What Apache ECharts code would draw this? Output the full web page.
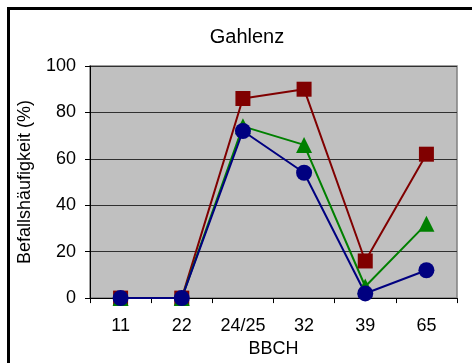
<!DOCTYPE html>
<html>
<head>
<meta charset="utf-8">
<script src="https://cdn.jsdelivr.net/npm/echarts@6/dist/echarts.min.js"></script>
<style>
  html, body { margin: 0; padding: 0; background: #fff; overflow: hidden; }
  #frame { position: absolute; left: 7px; top: 7px; width: 500px; height: 400px; border: 3px solid #000; }
  #main { position: absolute; left: 0; top: 0; width: 472px; height: 363px; }
</style>
</head>
<body>
<div id="frame"></div>
<div id="main"></div>
<script>
// BBCH stages
const categories = ["11", "22", "24/25", "32", "39", "65"];
// Befallshäufigkeit (%) per series
const redValues = [0, 0, 86, 90, 16, 62];
const greenValues = [0, 0, 74, 66, 5, 32];
const blueValues = [0, 0, 72, 54, 2, 12];

const font = "Liberation Sans, Arial, sans-serif";

function line(data, color, symbol, size) {
    return {
        type: "line",
        data: data,
        symbol: symbol,
        symbolSize: size,
        lineStyle: { color: color, width: 2 },
        itemStyle: { color: color },
        animation: false
    };
}

const myChart = echarts.init(document.getElementById("main"));
myChart.setOption({
    title: {
        text: "Gahlenz",
        left: 242,
        textAlign: "center",
        top: 22,
        textStyle: { fontFamily: font, fontSize: 20, fontWeight: "normal", color: "#000" }
    },
    grid: {
        left: 90, top: 66, width: 367, height: 235,
        show: true, backgroundColor: "#c0c0c0", borderColor: "#808080", borderWidth: 1.5
    },
    xAxis: {
        type: "category",
        data: categories,
        boundaryGap: true,
        name: "BBCH",
        nameLocation: "middle",
        nameGap: 38,
        nameTextStyle: { fontFamily: font, fontSize: 18, color: "#000" },
        axisLine: { lineStyle: { color: "#000", width: 1 } },
        axisTick: { show: true, length: 5, lineStyle: { color: "#000" } },
        axisLabel: { fontFamily: font, fontSize: 18, color: "#000", margin: 19 },
        splitLine: { show: false }
    },
    yAxis: {
        type: "value",
        min: 0, max: 100, interval: 20,
        name: "Befallshäufigkeit (%)",
        nameLocation: "middle",
        nameGap: 56,
        nameTextStyle: { fontFamily: font, fontSize: 18, color: "#000" },
        axisLine: { show: true, lineStyle: { color: "#000", width: 1 } },
        axisTick: { show: true, length: 5, lineStyle: { color: "#000" } },
        axisLabel: { fontFamily: font, fontSize: 18, color: "#000", margin: 14 },
        splitLine: { lineStyle: { color: "#303030", width: 1 } }
    },
    series: [
        line(redValues, "#800000", "rect", 15),
        line(greenValues, "#008000", "triangle", 16),
        line(blueValues, "#000080", "circle", 16)
    ]
});
</script>
</body>
</html>
